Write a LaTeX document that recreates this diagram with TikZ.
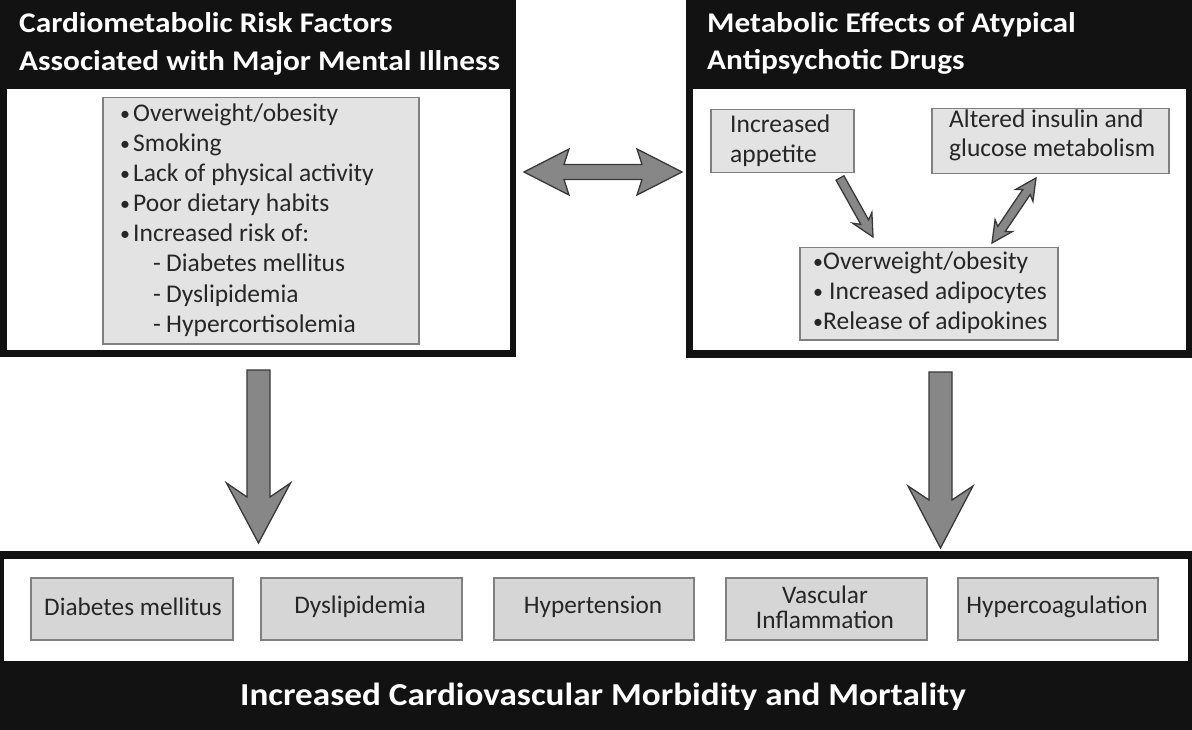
\documentclass[tikz,border=0pt]{standalone}
\usepackage{fontspec}
\setmainfont{Carlito}
\newfontfamily\hdrfont{Carlito}[FakeStretch=1.1]
\definecolor{frameblk}{gray}{0.07}
\definecolor{boxfillA}{gray}{0.89}
\definecolor{boxfillB}{gray}{0.84}
\definecolor{boxline}{gray}{0.5}
\definecolor{arrfill}{gray}{0.53}
\definecolor{arrline}{gray}{0.22}
\newcommand{\blockarr}[5]{\draw[barrowstyle] (0,#2) -- ({#1-#4+#5},#2) -- ({#1-#4},#3) -- (#1,0) -- ({#1-#4},-#3) -- ({#1-#4+#5},-#2) -- (0,-#2) -- cycle;}
\newcommand{\dblockarr}[5]{\draw[barrowstyle] (0,0) -- (#4,#3) -- ({#4-#5},#2) -- ({#1-#4+#5},#2) -- ({#1-#4},#3) -- (#1,0) -- ({#1-#4},-#3) -- ({#1-#4+#5},-#2) -- ({#4-#5},-#2) -- (#4,-#3) -- cycle;}
\newcommand{\mybul}{\raisebox{1.5pt}{\fontsize{20}{20}\selectfont •}}
\begin{document}
\begin{tikzpicture}[x=1pt,y=-1pt,
  framebox/.style={fill=frameblk, anchor=north west, inner sep=0pt, outer sep=0pt},
  bodybox/.style={fill=white, anchor=north west, inner sep=0pt, outer sep=0pt},
  gboxA/.style={draw=boxline, fill=boxfillA, line width=1.5pt, anchor=north west, inner sep=0pt},
  gboxB/.style={draw=boxline, fill=boxfillB, line width=1.5pt, anchor=north west, inner sep=0pt},
  barrowstyle/.style={draw=arrline, fill=arrfill, line width=1.3pt, line join=miter},
  hdr/.style={text=white, font=\hdrfont\bfseries\fontsize{28.5}{33}\selectfont, anchor=base west, inner sep=0pt},
  lst/.style={text=black!85, font=\fontsize{25.5}{30}\selectfont, anchor=base west, inner sep=0pt},
  btxt/.style={text=black!85, font=\fontsize{25.3}{29}\selectfont, anchor=base, inner sep=0pt},
  ttl/.style={text=white, font=\hdrfont\bfseries\fontsize{32}{36}\selectfont, anchor=base, inner sep=0pt}]
\useasboundingbox (0,0) rectangle (1192,730);
\fill[white] (0,0) rectangle (1192,730);
% ---- left panel
\node[framebox, minimum width=516pt, minimum height=357pt] (lframe) at (0,0) {};
\node[bodybox, minimum width=503pt, minimum height=261pt] (lbody) at (7,89) {};
\node[hdr] (lh1) at (19,33) {Cardiometabolic Risk Factors};
\node[hdr] (lh2) at (19,71) {Associated with Major Mental Illness};
\node[gboxA, minimum width=316pt, minimum height=246pt] (llist) at (102,97) {};
\foreach \t [count=\i from 0] in {Overweight/obesity,Smoking,Lack of physical activity,Poor dietary habits,Increased risk of:} {
  \node[lst] (lb\i) at (120,122+30*\i) {\mybul};
  \node[lst] (lt\i) at (133,122+30*\i) {\t};
}
\foreach \t [count=\i from 5] in {Diabetes mellitus,Dyslipidemia,Hypercortisolemia} {
  \node[lst] (ld\i) at (153,122+30*\i) {-};
  \node[lst] (lt\i) at (166,122+30*\i) {\t};
}
% ---- right panel
\node[framebox, minimum width=506pt, minimum height=358pt] (rframe) at (686,0) {};
\node[bodybox, minimum width=493pt, minimum height=261pt] (rbody) at (693,89) {};
\node[hdr] (rh1) at (707,33) {Metabolic Effects of Atypical};
\node[hdr] (rh2) at (707,70) {Antipsychotic Drugs};
\node[gboxA, minimum width=143pt, minimum height=63pt] (appetite) at (710,109) {};
\node[lst] at (730,133) {Increased};
\node[lst] at (730,163) {appetite};
\node[gboxA, minimum width=237pt, minimum height=65pt] (insulin) at (931,108) {};
\node[lst] at (949,128) {Altered insulin and};
\node[lst] at (949,157) {glucose metabolism};
\node[gboxA, minimum width=258pt, minimum height=92pt] (rlist) at (799,247) {};
\node[lst] at (813,270) {\mybul};
\node[lst] at (823,270) {Overweight/obesity};
\node[lst] at (813,300) {\mybul};
\node[lst] at (829,300) {Increased adipocytes};
\node[lst] at (813,330) {\mybul};
\node[lst] at (823,330) {Release of adipokines};
% ---- bottom panel
\node[framebox, minimum width=1192pt, minimum height=179pt] (bframe) at (0,551) {};
\node[bodybox, minimum width=1184pt, minimum height=102pt] (bbody) at (4,559) {};
\node[gboxB, minimum width=202pt, minimum height=62pt] (b1) at (30,577) {};
\node[gboxB, minimum width=201pt, minimum height=62pt] (b2) at (260,577) {};
\node[gboxB, minimum width=200pt, minimum height=62pt] (b3) at (493,577) {};
\node[gboxB, minimum width=201pt, minimum height=62pt] (b4) at (725,577) {};
\node[gboxB, minimum width=200pt, minimum height=62pt] (b5) at (957,577) {};
\node[btxt] at (133,615) {Diabetes mellitus};
\node[btxt] at (360,613) {Dyslipidemia};
\node[btxt] at (593,613) {Hypertension};
\node[btxt] at (825,603) {Vascular};
\node[btxt] at (825,628) {Inflammation};
\node[btxt] at (1057,613) {Hypercoagulation};
\node[ttl] (title) at (603,705) {Increased Cardiovascular Morbidity and Mortality};
% ---- block arrows
\coordinate (hA) at (524,172);
\coordinate (apA) at (840,178);
\coordinate (inA) at (992,243);
\coordinate (dL) at (258.5,370);
\coordinate (dR) at (940.5,372);
\begin{scope}[shift={(hA)}]
  \dblockarr{158}{7.5}{23}{45}{5}
\end{scope}
\begin{scope}[shift={(apA)}, rotate=-60.78]
  \blockarr{67.6}{4.5}{11}{22}{5}
\end{scope}
\begin{scope}[shift={(inA)}, rotate=55.9]
  \dblockarr{78.5}{4.5}{10.5}{21}{4}
\end{scope}
\begin{scope}[shift={(dL)}, rotate=-90]
  \blockarr{173}{11.5}{32}{60}{14}
\end{scope}
\begin{scope}[shift={(dR)}, rotate=-90]
  \blockarr{176}{11.5}{32.5}{62}{14}
\end{scope}
\end{tikzpicture}
\end{document}
